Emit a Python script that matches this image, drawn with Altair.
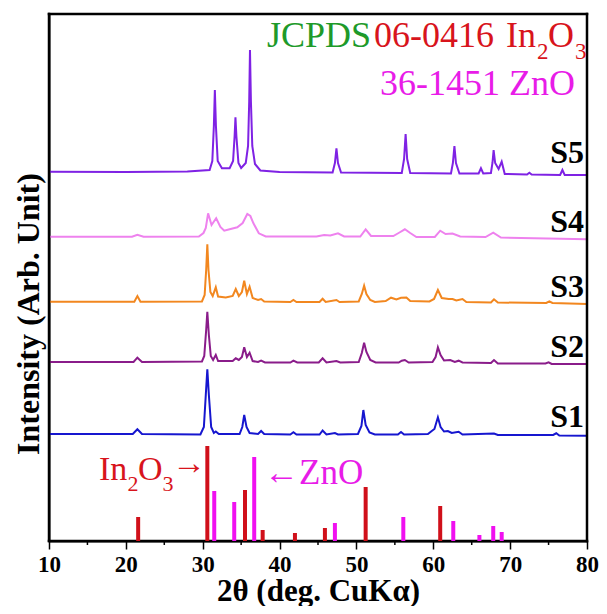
import altair as alt
import pandas as pd

# ---------------- data (2θ in degrees, intensity in arbitrary stacked units) -------------
s1_theta = [10, 20.9, 21.5, 22.1, 29.7, 30.15, 30.4, 30.6, 30.8, 31.1, 31.45, 31.7, 32.1, 34.8, 35.15, 35.4,
            35.7, 36.1, 37.2, 37.6, 38.0, 41.4, 41.8, 42.2, 45.2, 45.6, 46.1, 47.2, 47.6, 50.2, 50.65, 50.9,
            51.2, 51.7, 52.4, 55.4, 55.8, 56.2, 59.3, 59.8, 60.15, 60.6, 60.95, 61.4, 61.9, 62.4, 63.3, 63.8,
            67.9, 68.4, 75.6, 76.0, 76.4, 80]
s1_int = [107, 107, 111.7, 107, 106.5, 114, 146, 171.7, 146, 114, 108, 109.5, 107, 107, 114, 126,
          114, 108, 107, 110, 107, 106.5, 108.7, 106.5, 106.5, 110.5, 106.5, 108, 106.5, 107, 115, 131,
          116, 108.5, 106.5, 106.5, 109, 106.5, 107, 110, 112, 123.7, 114, 109.5, 110, 108, 109.3, 106.5,
          107.5, 106, 106, 107.7, 105.5, 105.3]

s2_theta = [10, 21.0, 21.5, 22.1, 29.9, 30.2, 30.45, 30.6, 30.8, 31.05, 31.35, 31.7, 32.0, 33.9, 34.3, 34.7,
            35.1, 35.4, 35.75, 36.1, 36.5, 37.2, 37.6, 38.1, 41.4, 41.8, 42.3, 45.1, 45.6, 46.1, 47.4, 47.9,
            50.3, 50.7, 51.0, 51.3, 51.8, 52.5, 55.5, 55.9, 56.3, 56.8, 59.9, 60.3, 60.6, 60.95, 61.4, 62.2,
            62.8, 63.3, 63.8, 67.5, 67.9, 68.4, 74.6, 75.0, 75.4, 80]
s2_int = [179, 179, 183.3, 179, 179.5, 185, 211, 229.3, 206, 185, 181, 186, 180, 180, 182.7, 181,
          184, 193.7, 184, 188.3, 180, 179, 180.3, 178.5, 178.5, 180.3, 178.5, 178.5, 182.7, 178.5, 180, 178.5,
          179, 188, 198.3, 189, 181, 178.5, 178.5, 180.3, 181, 178.5, 179, 184, 193.7, 186, 180.5, 181,
          179, 180.3, 178.5, 178, 181, 177.5, 177.5, 178.7, 177, 177]

s3_theta = [10, 21.1, 21.5, 21.9, 29.9, 30.25, 30.45, 30.6, 30.75, 31.0, 31.3, 31.7, 32.0, 33.0, 33.9, 34.3,
            34.7, 35.1, 35.4, 35.75, 36.1, 36.5, 37.2, 37.6, 38.0, 41.4, 41.8, 42.2, 45.2, 45.6, 46.0, 47.4,
            47.8, 50.3, 50.7, 51.0, 51.3, 51.8, 52.4, 53.8, 54.5, 55.2, 55.8, 56.5, 57.0, 59.5, 60.1, 60.6,
            61.1, 62.0, 62.5, 63.0, 63.8, 64.3, 67.5, 67.9, 68.4, 74.7, 75.1, 75.5, 80]
s3_int = [239.3, 239.3, 245, 239.3, 239.5, 246, 271, 296.7, 271, 249, 245, 253.7, 244.5, 243.5, 245, 252,
          245, 249, 260.3, 247, 254.3, 243, 241, 242, 239.5, 239, 241, 239, 239, 242.3, 239, 241,
          239, 239.5, 247, 255.3, 247, 241, 239, 240, 243.3, 241.5, 243.3, 243.5, 240, 239.5, 242, 251,
          243, 242, 242, 240.5, 242, 239, 238.5, 241.7, 238.5, 238, 239.7, 238, 237]

s4_theta = [10, 20.8, 21.5, 22.3, 29.5, 30.1, 30.4, 30.7, 31.15, 31.75, 32.3, 32.8, 33.5, 34.5, 35.2, 35.8,
            36.2, 36.6, 37.3, 38.2, 44.8, 45.8, 46.6, 47.6, 48.4, 50.5, 51.2, 51.9, 54.8, 55.6, 56.3, 57.0,
            57.8, 60.2, 60.9, 61.6, 62.5, 63.5, 66.8, 67.8, 68.8, 80]
s4_int = [304.3, 304.3, 306.3, 304.3, 304.5, 308, 313, 327.7, 316, 322.7, 314, 310.3, 311.7, 313.7, 318, 327,
          325, 317.7, 307.7, 304.5, 304.5, 306, 305.5, 307.7, 304.5, 304.5, 311.7, 305, 305, 308.5, 311.7, 308,
          304, 304, 310.3, 307, 307.5, 304.5, 304, 308.3, 303.5, 301.7]

s5_theta = [10, 20, 28, 30.9, 31.25, 31.45, 31.58, 31.72, 31.95, 32.5, 33.5, 33.95, 34.15, 34.26, 34.38, 34.65,
            35.0, 35.6, 35.9, 36.05, 36.15, 36.27, 36.45, 36.8, 37.5, 40, 46.9, 47.2, 47.4, 47.6, 48.0, 55.9,
            56.2, 56.4, 56.6, 57.0, 62.3, 62.55, 62.75, 62.95, 63.4, 65.9, 66.2, 66.5, 67.5, 67.7, 67.85, 68.05,
            68.5, 68.9, 69.3, 72.2, 72.5, 72.8, 76.5, 76.8, 77.1, 80]
s5_int = [369.3, 369, 369.5, 371, 380, 415, 451, 415, 380, 372.7, 372.7, 380, 405, 423.7, 405, 378,
          373, 378, 395, 440, 491, 440, 395, 377, 370.5, 369, 368.5, 378, 392.7, 378, 368.5, 368,
          382, 407, 382, 368, 367.5, 378, 395, 378, 367.5, 367.5, 372.7, 367.5, 368, 378, 391, 378,
          372, 379.3, 367, 366.5, 368.3, 366.5, 366, 371, 366, 366]

samples = ["S1", "S2", "S3", "S4", "S5"]
sample_colors = ["#1616CF", "#8A1C8A", "#F2871F", "#EE82EE", "#7F22E4"]

# JCPDS reference sticks
in2o3_pos = [21.6, 30.6, 35.5, 37.8, 42.0, 45.9, 51.2, 60.9]
in2o3_h = [24, 95, 51, 11, 8, 13, 54, 35]
zno_pos = [31.5, 34.1, 36.7, 47.2, 56.1, 62.6, 66.0, 67.8, 68.9]
zno_h = [50, 39, 84, 18, 24, 20, 6, 15, 9]

x_ticks = [10, 20, 30, 40, 50, 60, 70, 80]
x_minor = [15, 25, 35, 45, 55, 65, 75]

# plot frame (data-space corners of the box)
frame_x1 = [10, 10, 80, 10]
frame_x2 = [80, 10, 80, 80]
frame_y1 = [527, 0, 0, 0]
frame_y2 = [527, 527, 527, 0]

# ---------------- tables ----------------
rows = []
for name, th, it in [("S1", s1_theta, s1_int), ("S2", s2_theta, s2_int), ("S3", s3_theta, s3_int),
                     ("S4", s4_theta, s4_int), ("S5", s5_theta, s5_int)]:
    for a, b in zip(th, it):
        rows.append({"theta": a, "intensity": b, "sample": name})
df = pd.DataFrame(rows)
df_in = pd.DataFrame({"pos": in2o3_pos, "h": in2o3_h})
df_zn = pd.DataFrame({"pos": zno_pos, "h": zno_h})
df_minor = pd.DataFrame({"pos": x_minor})
df_frame = pd.DataFrame({"x1": frame_x1, "x2": frame_x2, "y1": frame_y1, "y2": frame_y2})
one = pd.DataFrame({"a": [0]})

W, H = 538, 527
FONT = "Liberation Serif"
RED = "#D8141C"
MAG = "#E81CE8"
GREEN = "#1E9A2A"

xs = alt.Scale(domain=[10, 80], nice=False, zero=False)
ys = alt.Scale(domain=[0, 527], nice=False, zero=False)

x_enc = alt.X("theta:Q", scale=xs,
              axis=alt.Axis(values=x_ticks, format="d", title="2θ (deg. CuKα)", grid=False,
                            tickSize=8, tickWidth=1.5, tickColor="black", domainColor="black",
                            domainWidth=2, labelFont=FONT, labelFontSize=23, labelFontWeight="bold",
                            labelColor="black", labelPadding=4, labelFlush=False, titleFont=FONT,
                            titleFontSize=31, titleFontWeight="bold", titleColor="black", titlePadding=0))
y_enc = alt.Y("intensity:Q", scale=ys,
              axis=alt.Axis(title=None, ticks=False, labels=False, grid=False,
                            domainColor="black", domainWidth=2))

lines = alt.Chart(df).mark_line(strokeWidth=2).encode(
    x=x_enc, y=y_enc,
    color=alt.Color("sample:N", scale=alt.Scale(domain=samples, range=sample_colors), legend=None),
    order=alt.Order("theta:Q"),
)

frame = alt.Chart(df_frame).mark_rule(strokeWidth=2.5, color="black", strokeCap="square").encode(
    x=alt.X("x1:Q", scale=xs, axis=None), x2="x2:Q",
    y=alt.Y("y1:Q", scale=ys, axis=None), y2="y2:Q",
)

sticks_in = alt.Chart(df_in).mark_rule(strokeWidth=4, color="#D0101A").encode(
    x=alt.X("pos:Q", scale=xs, axis=None), y=alt.Y("h:Q", scale=ys, axis=None), y2=alt.datum(0))
sticks_zn = alt.Chart(df_zn).mark_rule(strokeWidth=4, color="#F010F0").encode(
    x=alt.X("pos:Q", scale=xs, axis=None), y=alt.Y("h:Q", scale=ys, axis=None), y2=alt.datum(0))

minor = alt.Chart(df_minor).mark_rule(strokeWidth=1.5, color="black").encode(
    x=alt.X("pos:Q", scale=xs, axis=None), y=alt.value(H), y2=alt.value(H + 4))


def txt(s, x, y, size, color, weight="normal", align="left", angle=0):
    return alt.Chart(one).mark_text(text=s, font=FONT, fontSize=size, fontWeight=weight, color=color,
                                    align=align, baseline="alphabetic", angle=angle).encode(
        x=alt.value(x), y=alt.value(y))


texts = [
    txt("Intensity (Arb. Unit)", -10, 300, 32, "black", weight="bold", align="center", angle=270),
    txt("JCPDS", 218, 33, 36, GREEN),
    txt("06-0416", 325, 33, 36, RED),
    txt("In", 457, 33, 36, RED),
    txt("2", 488, 45, 23, RED),
    txt("O", 499, 33, 36, RED),
    txt("3", 526, 45, 23, RED),
    txt("36-1451 ZnO", 331, 81, 36, MAG),
    txt("In", 50, 466, 34, RED),
    txt("2", 78.5, 477, 22, RED),
    txt("O", 89, 466, 34, RED),
    txt("3", 113.5, 477, 22, RED),
    txt("→", 123, 460, 34, RED),
    txt("←ZnO", 215, 470, 35, MAG),
]
for lab, yb in zip(["S5", "S4", "S3", "S2", "S1"], [149, 218, 283, 343, 413]):
    texts.append(txt(lab, 535, yb, 32, "black", weight="bold", align="right"))

chart = alt.layer(lines, frame, sticks_in, sticks_zn, minor, *texts).resolve_axis(
    x="independent", y="independent"
).properties(
    width=W, height=H,
    padding={"left": 41, "top": 6, "right": 12, "bottom": 65},
    autosize="none",
    background="white",
).configure_view(stroke="black", strokeWidth=1.5)

chart.save("out.html", embed_options={"renderer": "svg", "actions": False})
